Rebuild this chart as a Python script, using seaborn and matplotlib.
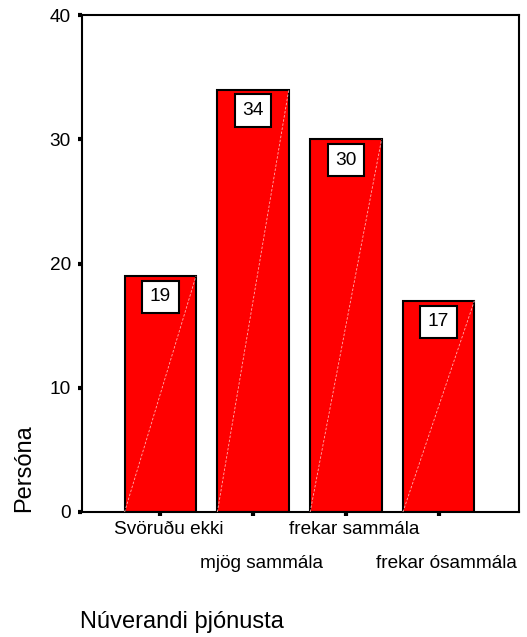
import matplotlib
matplotlib.use("Agg")
import matplotlib.pyplot as plt
import seaborn as sns
import pandas as pd

categories = ["Svöruðu ekki", "mjög sammála", "frekar sammála", "frekar ósammála"]
values = [19, 34, 30, 17]
y_ticks = [0, 10, 20, 30, 40]
x_title = "Núverandi þjónusta"
y_title = "Persóna"

sns.set_style("white")
plt.rcParams['font.family'] = ['Liberation Sans', 'DejaVu Sans']
plt.rcParams['text.color'] = 'black'
plt.rcParams['axes.labelcolor'] = 'black'
plt.rcParams['xtick.color'] = 'black'
plt.rcParams['ytick.color'] = 'black'

df = pd.DataFrame({"cat": categories, "val": values})

fig = plt.figure(figsize=(5.27, 6.37), dpi=100)
ax = fig.add_axes([82/527, 1-512/637, 437/527, 497/637])

sns.barplot(data=df, x="cat", y="val", color="#ff0000", saturation=1,
            edgecolor="black", linewidth=1.5, width=0.77, ax=ax)

# faint diagonal artifact in bars
for i, p in enumerate(ax.patches):
    x0 = p.get_x(); w = p.get_width(); h = p.get_height()
    ax.plot([x0, x0 + w], [0, h], color="#ffb0b0", lw=0.6, ls=(0, (3, 2)), zorder=3)

ax.set_xlim(-0.844, 3.866)
ax.set_ylim(0, 40)
ax.set_yticks(y_ticks)
ax.set_yticklabels([str(t) for t in y_ticks], fontsize=13.7, color="black")

for s in ax.spines.values():
    s.set_visible(True)
    s.set_color("black")
    s.set_linewidth(1.5)

ax.tick_params(axis="y", direction="out", length=3, width=3, color="black", pad=5, left=True)
ax.tick_params(axis="x", direction="out", length=3, width=3, color="black", bottom=True)
ax.set_xticks(range(len(categories)))
ax.set_xticklabels([""] * len(categories))

for i, lab in enumerate(categories):
    dy = -18 if i % 2 == 0 else -51
    ax.annotate(lab, xy=(i, 0), xycoords=("data", "axes fraction"),
                xytext=(8, dy), textcoords="offset pixels",
                ha="center", va="center", fontsize=13.7, color="black")

for i, v in enumerate(values):
    ax.annotate(str(v), xy=(i, v), xytext=(0, -21), textcoords="offset pixels",
                ha="center", va="center", fontsize=13.8, zorder=5, color="black",
                bbox=dict(boxstyle="square,pad=0.4", fc="white", ec="black", lw=1.5))

ax.set_xlabel(x_title, fontsize=17, ha="left", va="center", color="black")
ax.xaxis.set_label_coords(-0.005, -0.221)
ax.set_ylabel(y_title, fontsize=17, color="black")
ax.yaxis.set_label_coords(-0.133, 0.088)
ax.yaxis.label.set_va("center")
ax.yaxis.label.set_ha("center")

fig.savefig("out.png", dpi=100)
